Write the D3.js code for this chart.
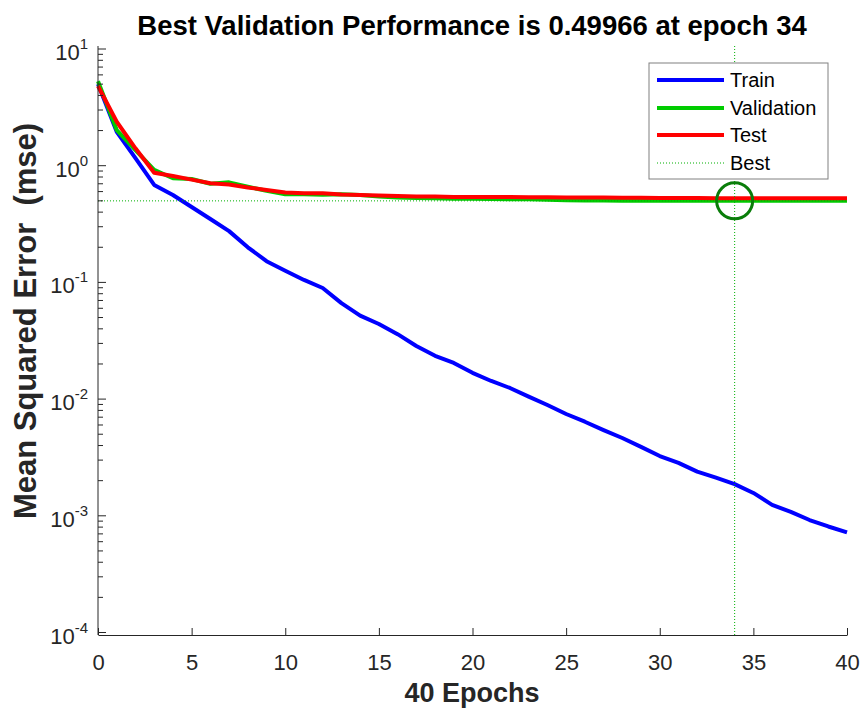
<!DOCTYPE html>
<html>
<head>
<meta charset="utf-8">
<script src="https://cdn.jsdelivr.net/npm/d3@7"></script>
<style>
  body { margin: 0; background: #fff; }
  text { font-family: "Liberation Sans", Arial, Helvetica, sans-serif; }
</style>
</head>
<body>
<div id="chart"></div>
<script>
// epochs 0..40
const epochs = d3.range(0, 41);

const train = [5.0, 1.95, 1.16, 0.684, 0.561, 0.443, 0.349, 0.275, 0.20, 0.152,
  0.126, 0.105, 0.0895, 0.0665, 0.0519, 0.044, 0.036, 0.0285, 0.0235, 0.0204,
  0.0168, 0.0143, 0.01245, 0.0105, 0.0089, 0.00745, 0.0064, 0.00543, 0.00464, 0.0039,
  0.00325, 0.00284, 0.00239, 0.00212, 0.00187, 0.00157, 0.00124, 0.00108, 0.00092, 0.00081,
  0.00072];

const validation = [5.3, 2.02, 1.36, 0.92, 0.78, 0.77, 0.70, 0.72, 0.66, 0.61,
  0.57, 0.57, 0.565, 0.57, 0.56, 0.545, 0.535, 0.53, 0.525, 0.52,
  0.52, 0.518, 0.515, 0.515, 0.512, 0.505, 0.503, 0.503, 0.502, 0.501,
  0.501, 0.5005, 0.5002, 0.5001, 0.49966, 0.5002, 0.5005, 0.5003, 0.5008, 0.501,
  0.5006];

const test = [4.82, 2.38, 1.41, 0.87, 0.817, 0.76, 0.707, 0.69, 0.65, 0.62,
  0.59, 0.58, 0.58, 0.566, 0.56, 0.555, 0.55, 0.545, 0.545, 0.54,
  0.54, 0.54, 0.538, 0.537, 0.536, 0.535, 0.534, 0.533, 0.532, 0.531,
  0.53, 0.529, 0.528, 0.527, 0.527, 0.526, 0.526, 0.525, 0.525, 0.525,
  0.525];

const bestEpoch = 34;
const bestValue = 0.49966;

const xTicks = [0, 5, 10, 15, 20, 25, 30, 35, 40];
const yExponents = [1, 0, -1, -2, -3, -4];

const series = [
  { name: "Train", values: train, color: "#0000ff" },
  { name: "Validation", values: validation, color: "#00cc00" },
  { name: "Test", values: test, color: "#ff0000" }
];

// set the dimensions and margins of the graph
const W = 862, H = 708;
const plotLeft = 98, plotRight = 847, plotTop = 46, plotBottom = 635;

const svg = d3.select("#chart")
  .append("svg")
  .attr("width", W)
  .attr("height", H);

const x = d3.scaleLinear().domain([0, 40]).range([plotLeft, plotRight]);
// 10^1 sits at y=49, 10^-4 at y=632.5 ; axis runs a little beyond both
const decade = 116.7;
const y = d3.scaleLog()
  .domain([Math.pow(10, -4 - 2.5 / decade), Math.pow(10, 1 + 3 / decade)])
  .range([plotBottom, plotTop]);

const axisColor = "#262626";

// curves
const line = d3.line()
  .x((d, i) => x(epochs[i]))
  .y((d) => y(d));

svg.append("g")
  .selectAll("path")
  .data(series)
  .join("path")
  .attr("d", (d) => line(d.values))
  .attr("fill", "none")
  .attr("stroke", (d) => d.color)
  .attr("stroke-width", 4)
  .attr("stroke-linejoin", "round");

// best lines (dotted)
svg.append("line")
  .attr("x1", x(0)).attr("x2", x(40))
  .attr("y1", y(bestValue)).attr("y2", y(bestValue))
  .attr("stroke", "#00b000").attr("stroke-width", 1)
  .attr("stroke-dasharray", "1,2");
svg.append("line")
  .attr("x1", x(bestEpoch)).attr("x2", x(bestEpoch))
  .attr("y1", plotTop).attr("y2", plotBottom)
  .attr("stroke", "#00b000").attr("stroke-width", 1)
  .attr("stroke-dasharray", "1,2");

svg.append("circle")
  .attr("cx", x(bestEpoch))
  .attr("cy", y(bestValue))
  .attr("r", 18)
  .attr("fill", "none")
  .attr("stroke", "#0a7d0a")
  .attr("stroke-width", 3);

// X axis
const gx = svg.append("g").attr("transform", `translate(0,${plotBottom})`);
gx.call(d3.axisBottom(x).tickValues(xTicks).tickSize(-7).tickSizeOuter(0).tickPadding(19));
gx.select(".domain").attr("stroke", axisColor);
gx.selectAll(".tick line").attr("stroke", axisColor);
gx.selectAll(".tick text")
  .attr("fill", axisColor)
  .style("font-size", "22px")
  .attr("font-family", null);

// Y axis (minor ticks inward)
const gy = svg.append("g").attr("transform", `translate(${plotLeft},0)`);
gy.append("line")
  .attr("y1", plotTop).attr("y2", plotBottom)
  .attr("stroke", axisColor);

const minor = [];
yExponents.forEach((e) => {
  if (e === 1) return;
  for (let m = 2; m <= 9; m++) minor.push(m * Math.pow(10, e));
});
gy.selectAll(".minor")
  .data(minor)
  .join("line")
  .attr("class", "minor")
  .attr("x1", 0).attr("x2", 5)
  .attr("y1", (d) => y(d)).attr("y2", (d) => y(d))
  .attr("stroke", axisColor);

gy.selectAll(".major")
  .data(yExponents)
  .join("line")
  .attr("class", "major")
  .attr("x1", 0).attr("x2", 8)
  .attr("y1", (d) => y(Math.pow(10, d))).attr("y2", (d) => y(Math.pow(10, d)))
  .attr("stroke", axisColor);

const yl = gy.selectAll(".ylab")
  .data(yExponents)
  .join("text")
  .attr("class", "ylab")
  .attr("x", -10)
  .attr("y", (d) => y(Math.pow(10, d)) + 11)
  .attr("text-anchor", "end")
  .attr("fill", axisColor)
  .style("font-size", "22px");
yl.append("tspan").text("10");
yl.append("tspan")
  .attr("dy", -11)
  .style("font-size", "15px")
  .text((d) => d);

// title & labels
svg.append("text")
  .attr("x", 472)
  .attr("y", 35)
  .attr("text-anchor", "middle")
  .attr("font-weight", "bold")
  .style("font-size", "27.5px")
  .attr("fill", "#000")
  .text("Best Validation Performance is 0.49966 at epoch 34");

svg.append("text")
  .attr("x", 472)
  .attr("y", 702)
  .attr("text-anchor", "middle")
  .attr("font-weight", "bold")
  .style("font-size", "27px")
  .attr("fill", axisColor)
  .text("40 Epochs");

svg.append("text")
  .attr("transform", "translate(36,321) rotate(-90)")
  .attr("text-anchor", "middle")
  .attr("font-weight", "bold")
  .style("font-size", "31px")
  .style("white-space", "pre")
  .attr("fill", axisColor)
  .text("Mean Squared Error  (mse)");

// legend
const lg = svg.append("g").attr("transform", "translate(649,63)");
lg.append("rect")
  .attr("width", 179).attr("height", 116)
  .attr("fill", "#fff")
  .attr("stroke", "#808080");

const legendItems = series.concat([{ name: "Best", color: "#00b000", dotted: true }]);
const rowY = [17, 45, 72, 100];
const li = lg.selectAll(".item")
  .data(legendItems)
  .join("g")
  .attr("class", "item")
  .attr("transform", (d, i) => `translate(0,${rowY[i]})`);
li.append("line")
  .attr("x1", 8).attr("x2", 75)
  .attr("stroke", (d) => d.color)
  .attr("stroke-width", (d) => (d.dotted ? 1 : 4))
  .attr("stroke-dasharray", (d) => (d.dotted ? "1,2" : null));
li.append("text")
  .attr("x", 81)
  .attr("y", 7)
  .style("font-size", "20px")
  .attr("fill", "#000")
  .text((d) => d.name);
</script>
</body>
</html>
